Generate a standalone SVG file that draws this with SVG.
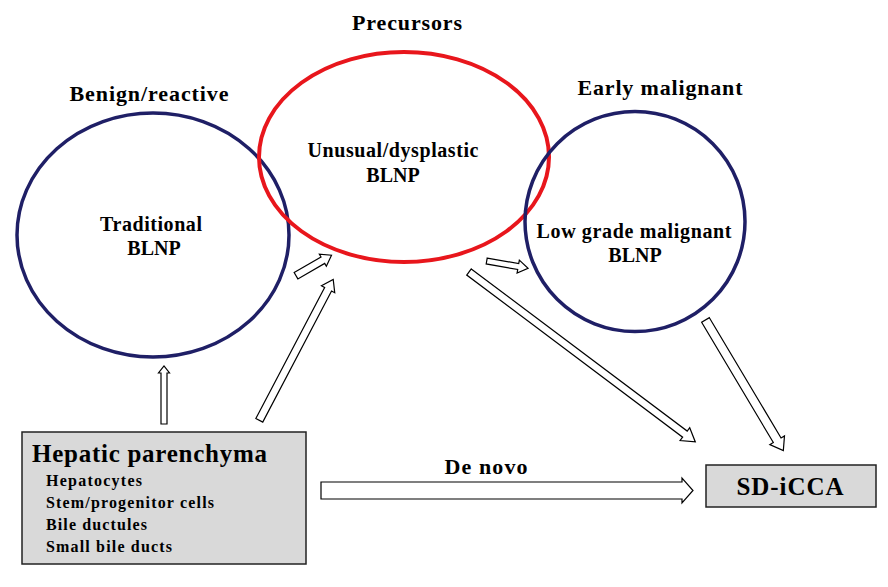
<svg xmlns="http://www.w3.org/2000/svg" width="888" height="587" viewBox="0 0 888 587">
<style>
text{font-family:"Liberation Serif","Times New Roman",serif;font-weight:bold;fill:#000}
.head{font-size:22px}
.inner{font-size:20px}
.sub{font-size:16px}
.navy{fill:none;stroke:#1f1f66;stroke-width:3.5}
.red{fill:none;stroke:#e8161c;stroke-width:4}
.box{fill:#d9d9d9;stroke:#222;stroke-width:1.5}
.arr{fill:#fff;stroke:#000;stroke-width:1.2;stroke-linejoin:miter}
</style>
<rect width="888" height="587" fill="#fff"/>
<g id="benign">
<ellipse class="navy" cx="153" cy="235" rx="136" ry="122"/>
<text class="head" x="149" y="101" text-anchor="middle" textLength="159">Benign/reactive</text>
<text class="inner" x="151" y="231" text-anchor="middle" textLength="102">Traditional</text>
<text class="inner" x="154" y="255" text-anchor="middle">BLNP</text>
</g>
<g id="precursors">
<ellipse class="red" cx="404" cy="157" rx="145" ry="105"/>
<text class="head" x="407" y="30" text-anchor="middle" textLength="110">Precursors</text>
<text class="inner" x="393" y="157" text-anchor="middle" textLength="171">Unusual/dysplastic</text>
<text class="inner" x="393" y="182" text-anchor="middle">BLNP</text>
</g>
<g id="early">
<ellipse class="navy" cx="635" cy="221.5" rx="110" ry="110"/>
<text class="head" x="660" y="95" text-anchor="middle" textLength="165">Early malignant</text>
<text class="inner" x="634" y="238" text-anchor="middle" textLength="195">Low grade malignant</text>
<text class="inner" x="635" y="262" text-anchor="middle">BLNP</text>
</g>
<g id="parenchyma">
<rect class="box" x="22" y="432" width="284" height="132"/>
<text style="font-size:25px" x="32" y="462" textLength="235">Hepatic parenchyma</text>
<text class="sub" x="46" y="486" textLength="96">Hepatocytes</text>
<text class="sub" x="46" y="508" textLength="168">Stem/progenitor cells</text>
<text class="sub" x="46" y="530" textLength="101">Bile ductules</text>
<text class="sub" x="46" y="552" textLength="126">Small bile ducts</text>
</g>
<g id="sdicca">
<rect class="box" x="706" y="465" width="170" height="42"/>
<text style="font-size:25px" x="790" y="495" text-anchor="middle" textLength="107">SD-iCCA</text>
</g>
<g id="connectors">
<path class="arr" transform="translate(164,424) rotate(-90)" d="M0,-3 L51,-3 L51,-5.5 L58,0 L51,5.5 L51,3 L0,3 Z"/>
<path class="arr" transform="translate(296,275.7) rotate(-30)" d="M0,-3.7 L31,-3.7 L31,-7 L41,0 L31,7 L31,3.7 L0,3.7 Z"/>
<path class="arr" transform="translate(259.3,420.3) rotate(-62.3)" d="M0,-3.9 L148,-3.9 L148,-7.5 L159,0 L148,7.5 L148,3.9 L0,3.9 Z"/>
<path class="arr" transform="translate(486.7,261) rotate(10)" d="M0,-3 L32,-3 L32,-6.5 L42,0 L32,6.5 L32,3 L0,3 Z"/>
<path class="arr" transform="translate(469,272) rotate(36.9)" d="M0,-3.8 L270,-3.8 L270,-8 L283,0 L270,8 L270,3.8 L0,3.8 Z"/>
<path class="arr" transform="translate(705.5,320) rotate(59.2)" d="M0,-4.5 L140,-4.5 L140,-8.5 L152,0 L140,8.5 L140,4.5 L0,4.5 Z"/>
<path class="arr" transform="translate(321,490.5)" d="M0,-8.5 L361,-8.5 L361,-12.5 L372,0 L361,12.5 L361,8.5 L0,8.5 Z"/>
<text class="head" x="486" y="474" text-anchor="middle" textLength="83">De novo</text>
</g>
</svg>
